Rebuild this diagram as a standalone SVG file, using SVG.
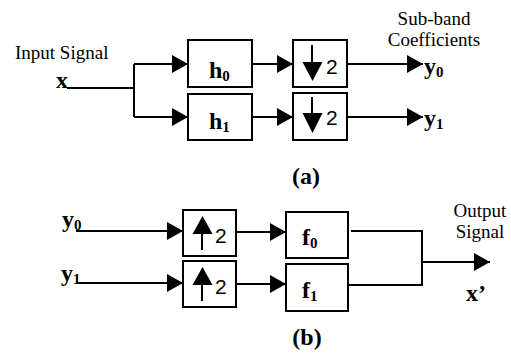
<svg xmlns="http://www.w3.org/2000/svg" width="511" height="354" viewBox="0 0 511 354">
<style>
.ln{fill:none;stroke:#000;stroke-width:2}
.bx{fill:#fff;stroke:#000;stroke-width:2}
.lab{font-family:"Liberation Serif","Times New Roman",serif;font-size:19px;fill:#000}
.bl{font-family:"Liberation Serif","Times New Roman",serif;font-size:24px;font-weight:bold;fill:#000}
.sb{font-size:15px}
.two{font-family:"Liberation Sans",Arial,sans-serif;font-size:21px;fill:#000}
.ah{fill:#000;stroke:none}
</style>
<defs>
<marker id="arr" markerUnits="userSpaceOnUse" markerWidth="17" markerHeight="18" refX="16" refY="9" orient="auto" viewBox="0 0 17 18">
<path d="M0,0 L16,9 L0,18 z" fill="#000"/>
</marker>
</defs>
<g id="connectors">
<polyline class="ln" points="67,88 134,88"/>
<polyline class="ln" points="134,64 134,117"/>
<polyline class="ln" points="134,64 188,64" marker-end="url(#arr)"/>
<polyline class="ln" points="134,117 188,117" marker-end="url(#arr)"/>
<polyline class="ln" points="252,64 293,64" marker-end="url(#arr)"/>
<polyline class="ln" points="252,117 293,117" marker-end="url(#arr)"/>
<polyline class="ln" points="347,64 423,64" marker-end="url(#arr)"/>
<polyline class="ln" points="347,117 423,117" marker-end="url(#arr)"/>
<polyline class="ln" points="76,231 183,231" marker-end="url(#arr)"/>
<polyline class="ln" points="76,283 183,283" marker-end="url(#arr)"/>
<polyline class="ln" points="236,232 286,232" marker-end="url(#arr)"/>
<polyline class="ln" points="236,284 286,284" marker-end="url(#arr)"/>
<polyline class="ln" points="351,231 422,231 422,285 348,285"/>
<polyline class="ln" points="422,262 490,262" marker-end="url(#arr)"/>
</g>
<g id="input">
<text class="lab" x="15" y="59">Input Signal</text>
<text class="bl" x="56" y="88">x</text>
</g>
<g id="h0">
<rect class="bx" x="188" y="40" width="64" height="47"/>
<text class="bl" x="209" y="78">h<tspan class="sb" dy="3">0</tspan></text>
</g>
<g id="h1">
<rect class="bx" x="188" y="94" width="64" height="46"/>
<text class="bl" x="209" y="129">h<tspan class="sb" dy="3">1</tspan></text>
</g>
<g id="down0">
<rect class="bx" x="293" y="40" width="54" height="47"/>
<line class="ln" x1="312" y1="45" x2="312" y2="66"/>
<path class="ah" d="M302.5,62 L322.5,62 L312.5,81 z"/>
<text class="two" x="326" y="74">2</text>
</g>
<g id="down1">
<rect class="bx" x="293" y="93" width="54" height="47"/>
<line class="ln" x1="312" y1="97" x2="312" y2="116"/>
<path class="ah" d="M302.5,113 L322.5,113 L312.5,133 z"/>
<text class="two" x="326" y="125">2</text>
</g>
<g id="outputs-a">
<text class="lab" x="434" y="25" text-anchor="middle">Sub-band</text>
<text class="lab" x="434" y="46" text-anchor="middle">Coefficients</text>
<text class="bl" x="424" y="74">y<tspan class="sb" dy="3">0</tspan></text>
<text class="bl" x="424" y="126">y<tspan class="sb" dy="3">1</tspan></text>
</g>
<g id="caption-a">
<text class="bl" x="306" y="184" text-anchor="middle">(a)</text>
</g>
<g id="inputs-b">
<text class="bl" x="62" y="227">y<tspan class="sb" dy="3">0</tspan></text>
<text class="bl" x="61" y="281">y<tspan class="sb" dy="3">1</tspan></text>
</g>
<g id="up0">
<rect class="bx" x="183" y="210" width="53" height="46"/>
<line class="ln" x1="202" y1="230" x2="202" y2="250"/>
<path class="ah" d="M192.5,234 L212.5,234 L202.5,216 z"/>
<text class="two" x="215" y="243">2</text>
</g>
<g id="up1">
<rect class="bx" x="183" y="261" width="53" height="46"/>
<line class="ln" x1="202" y1="281" x2="202" y2="301"/>
<path class="ah" d="M192.5,285 L212.5,285 L202.5,267 z"/>
<text class="two" x="215" y="294">2</text>
</g>
<g id="f0">
<rect class="bx" x="286" y="212" width="62" height="46"/>
<text class="bl" x="302" y="245">f<tspan class="sb" dy="3">0</tspan></text>
</g>
<g id="f1">
<rect class="bx" x="286" y="264" width="62" height="47"/>
<text class="bl" x="302" y="298">f<tspan class="sb" dy="3">1</tspan></text>
</g>
<g id="output-b">
<text class="lab" x="480" y="217" text-anchor="middle">Output</text>
<text class="lab" x="480" y="238" text-anchor="middle">Signal</text>
<text class="bl" x="466" y="301">x’</text>
</g>
<g id="caption-b">
<text class="bl" x="307" y="345" text-anchor="middle">(b)</text>
</g>
</svg>
